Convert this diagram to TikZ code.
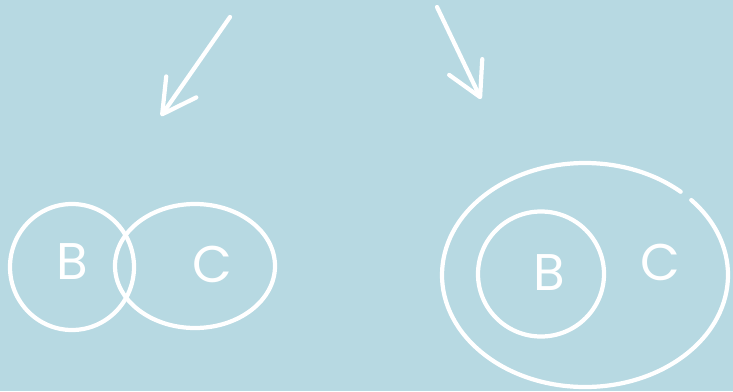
\documentclass[tikz,border=0pt]{standalone}
\usepackage{fontspec}
\setsansfont{Poppins}
\usetikzlibrary{arrows.meta,shapes.geometric}
\definecolor{BoardBlue}{RGB}{183,217,226}
\tikzset{
  chalk/.style={draw=white,line width=3.6pt,line cap=round},
  ring/.style={chalk,ellipse,inner sep=0pt},
  letter/.style={text=white,font=\sffamily\fontsize{44}{44}\selectfont,inner sep=0pt},
  pointer/.style={chalk,-{Straight Barb[length=10mm,width=11mm,round]}}
}

\begin{document}
\begin{tikzpicture}[x=0.03cm,y=-0.03cm]
\useasboundingbox (0,0) rectangle (733,391);
\fill[BoardBlue] (0,0) rectangle (733,391);
% arrows
\coordinate (ltail) at (230,17);
\coordinate (lhead) at (161,116);
\coordinate (rtail) at (437,7);
\coordinate (rhead) at (481,99);
\draw[pointer] (ltail) -- (lhead);
\draw[pointer] (rtail) -- (rhead);
% overlapping B and C
\node[ring,minimum width=3.72cm,minimum height=3.78cm] (bleft) at (72,267) {};
\node[ring,minimum width=4.8cm,minimum height=3.72cm] (cleft) at (195,266) {};
\node[letter] (lb) at (72,262) {B};
\node[letter] (lc) at (212,264) {C};
% B inside C
\node[ellipse,minimum width=8.58cm,minimum height=6.72cm] (cright) at (585,275) {};
\draw[chalk] (cright.center) ++(-42:143 and 112) arc[start angle=-42,end angle=312,x radius=143,y radius=112];
\node[ring,minimum width=3.78cm,minimum height=3.75cm] (bright) at (541,274) {};
\node[letter] (rb) at (549,273) {B};
\node[letter] (rc) at (660,262) {C};
\end{tikzpicture}
\end{document}
